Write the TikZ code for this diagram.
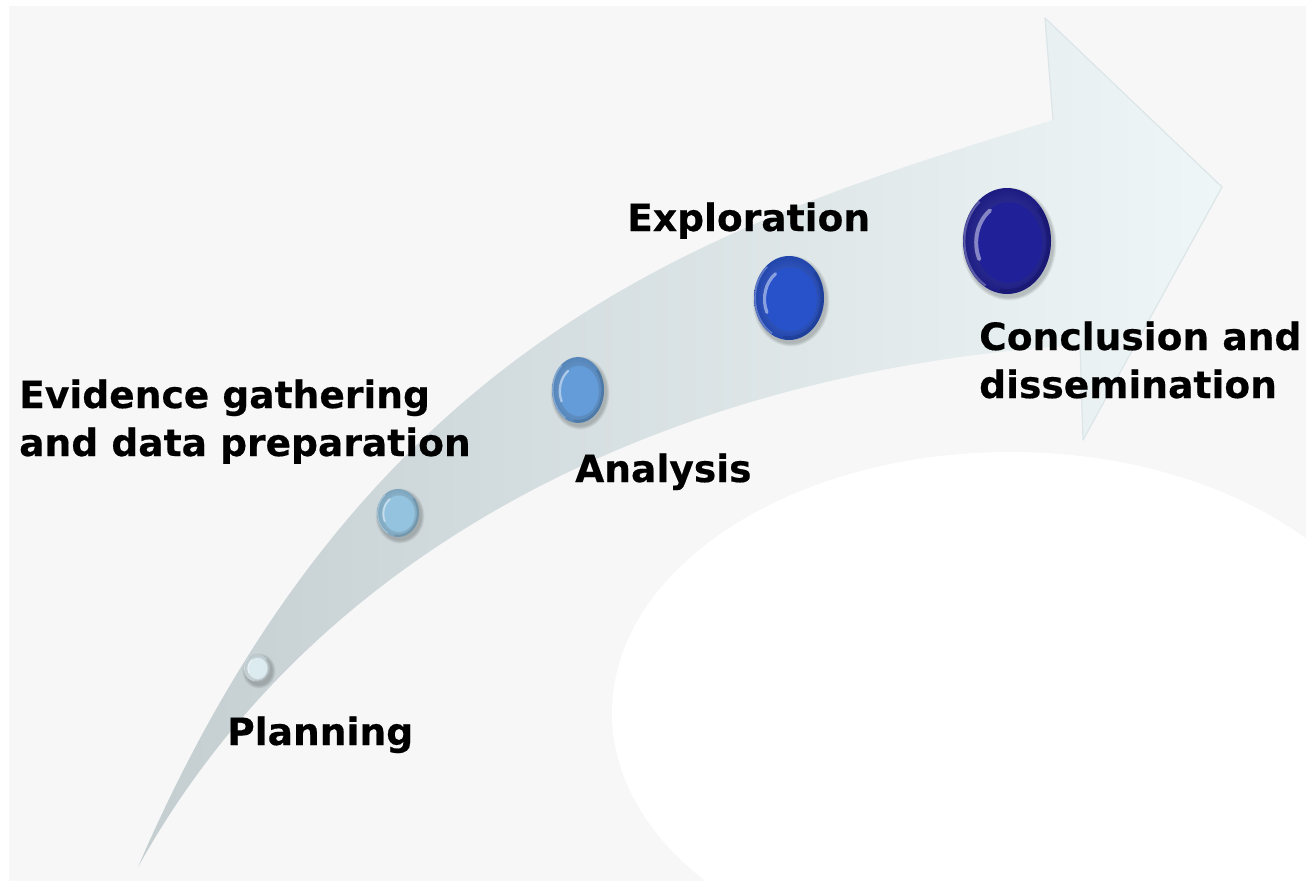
\documentclass[tikz,border=0pt]{standalone}
\usepackage{fontspec}
\setmainfont{DejaVu Sans}[BoldFeatures={FakeBold=0.4}]
\usetikzlibrary{shapes.geometric}

\definecolor{bg}{HTML}{F7F7F7}
\definecolor{arrL}{HTML}{C4CED1}
\definecolor{arrM}{HTML}{E3EBED}
\definecolor{arrR}{HTML}{EFF6F7}
\definecolor{arrEdge}{HTML}{DCE5E8}
\definecolor{dotA}{HTML}{DCEBF0}
\definecolor{dotB}{HTML}{93C3DF}
\definecolor{dotC}{HTML}{639CD9}
\definecolor{dotD}{HTML}{2752CA}
\definecolor{dotE}{HTML}{202098}

\tikzset{
  stagelabel/.style={anchor=base west, inner sep=0pt, text=black,
    font=\fontsize{37.6}{48}\selectfont\bfseries},
  dotnode/.style={ellipse, inner sep=0pt, draw=none},
}

% #1 name, #2 x, #3 y, #4 x radius, #5 y radius, #6 colour
\newcommand{\stagedot}[6]{%
  \foreach \k in {1,...,5}
    \fill[black, opacity=0.045] (#2+2,#3+3) ellipse [x radius=#4+\k*0.7, y radius=#5+\k*0.7];
  \node[dotnode, minimum width={2*#4pt}, minimum height={2*#5pt}] (#1) at (#2,#3) {};
  \shade[inner color=#6!80!white, outer color=#6!85!black]
    (#2,#3) ellipse [x radius=#4, y radius=#5];
  \fill[#6] (#2+0.04*#4,#3+0.03*#5) ellipse [x radius=0.76*#4, y radius=0.76*#5];
  \draw[#6!35!white, opacity=0.7, line width={0.09*#4pt}, line cap=round]
    ([shift={(155:0.74*#4 and 0.74*#5)}]#2+0.04*#4,#3+0.03*#5)
    arc [start angle=155, end angle=235, x radius=0.74*#4, y radius=0.74*#5];
  \draw[#6!60!black, opacity=0.35, line width={0.1*#4pt}]
    ([shift={(-40:0.95*#4 and 0.95*#5)}]#2,#3)
    arc [start angle=-40, end angle=100, x radius=0.95*#4, y radius=0.95*#5];
  \draw[#6!40!white, opacity=0.45, line width={0.05*#4pt}]
    ([shift={(120:0.97*#4 and 0.97*#5)}]#2,#3)
    arc [start angle=120, end angle=230, x radius=0.97*#4, y radius=0.97*#5];
}

\begin{document}
\begin{tikzpicture}[x=1pt, y=-1pt]
\useasboundingbox (0,0) rectangle (1306,881);
\fill[white] (0,0) rectangle (1306,881);
\fill[bg] (9,6) rectangle (1306,881);

% white oval in the lower right
\fill[white] (1010,713) ellipse [x radius=398, y radius=261];

% the curved arrow
\shade[left color=arrL, middle color=arrM, right color=arrR]
  (138,867) .. controls (370,330) and (718,223) .. (1053,120)
  -- (1045,18) -- (1222,187) -- (1083,440) -- (1080,345)
  .. controls (680,370) and (320,540) .. (138,867) -- cycle;
\draw[arrEdge, line width=1.2pt, line join=round]
  (1053,120) -- (1045,18) -- (1222,187) -- (1083,440) -- (1080,345);

% stage markers
\stagedot{planning}{257}{668}{13}{14}{dotA}
\stagedot{evidence}{398}{513}{21}{24}{dotB}
\stagedot{analysis}{578}{390}{26}{33}{dotC}
\stagedot{exploration}{789}{298}{35}{42}{dotD}
\stagedot{conclusion}{1007}{241}{44}{53}{dotE}

% stage names
\node[stagelabel] (lplanning) at (227,745) {Planning};
\node[stagelabel] (levidence) at (19,408)
  {\begin{tabular}[t]{@{}l@{}}Evidence gathering\\and data preparation\end{tabular}};
\node[stagelabel] (lanalysis) at (575,482) {Analysis};
\node[stagelabel] (lexploration) at (627,231) {Exploration};
\node[stagelabel] (lconclusion) at (979,350)
  {\begin{tabular}[t]{@{}l@{}}Conclusion and\\dissemination\end{tabular}};
\end{tikzpicture}
\end{document}
